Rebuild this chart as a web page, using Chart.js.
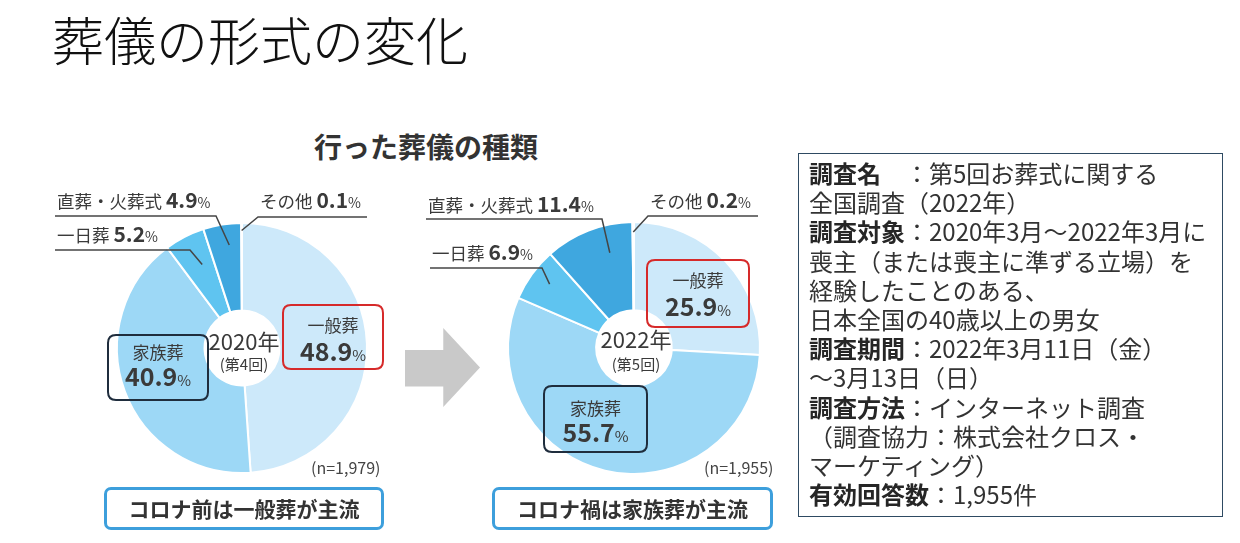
<!DOCTYPE html>
<html><head><meta charset="utf-8">
<script src="https://cdn.jsdelivr.net/npm/chart.js@4.4.1/dist/chart.umd.min.js"></script>
<style>
html,body{margin:0;padding:0;background:#fff;}
body{width:1240px;height:543px;position:relative;overflow:hidden;font-family:"Noto Sans CJK JP","Noto Sans",sans-serif;}
.abs{position:absolute;}
#title{left:52px;top:4px;font-size:52px;font-weight:300;color:#111;line-height:70px;white-space:nowrap;font-family:"Noto Sans CJK JP Light","Noto Sans CJK JP DemiLight","Noto Sans CJK JP",sans-serif;}
#ctitle{left:306px;top:128px;width:240px;text-align:center;font-size:28px;font-weight:700;color:#333;line-height:36px;white-space:nowrap;}
.wrap{position:absolute;width:400px;height:310px;top:180px;}
#arrow{left:405px;top:328px;width:75px;height:79px;background:#c9c9c9;clip-path:polygon(0 28%,51% 28%,51% 0,100% 50%,51% 100%,51% 74%,0 74%);}
.nlab{font-size:16px;color:#444;line-height:20px;white-space:nowrap;}
.bbox{border:3px solid #3d9fdc;border-radius:7px;box-sizing:border-box;height:43px;top:487px;text-align:center;font-size:21px;font-weight:700;color:#333;line-height:37px;white-space:nowrap;}
#info{left:798px;top:153px;width:425px;height:364px;box-sizing:border-box;border:1.5px solid #2e4a62;padding:4px 0 0 10px;font-size:24px;line-height:29.2px;color:#333;white-space:pre;}
#info b{color:#262626;}
</style></head><body>
<div id="title" class="abs">葬儀の形式の変化</div>
<div id="ctitle" class="abs">行った葬儀の種類</div>
<div class="wrap" style="left:40px"><canvas id="c1" width="400" height="310"></canvas></div>
<div class="wrap" style="left:420px"><canvas id="c2" width="400" height="310"></canvas></div>
<div id="arrow" class="abs"></div>
<div class="abs nlab" style="left:311px;top:457px">(n=1,979)</div>
<div class="abs nlab" style="left:704px;top:457px">(n=1,955)</div>
<div class="abs bbox" style="left:104px;width:280px">コロナ前は一般葬が主流</div>
<div class="abs bbox" style="left:492px;width:281px">コロナ禍は家族葬が主流</div>
<div id="info" class="abs"><div><b>調査名</b>　：第5回お葬式に関する</div><div>全国調査（2022年）</div><div><b>調査対象</b>：2020年3月～2022年3月に</div><div>喪主（または喪主に準ずる立場）を</div><div>経験したことのある、</div><div>日本全国の40歳以上の男女</div><div><b>調査期間</b>：2022年3月11日（金）</div><div>～3月13日（日）</div><div><b>調査方法</b>：インターネット調査</div><div>（調査協力：株式会社クロス・</div><div>マーケティング）</div><div><b>有効回答数</b>：1,955件</div></div>
<script>
// ---- data ----
const categories = ["一般葬", "家族葬", "一日葬", "直葬・火葬式", "その他"];
const values2020 = [48.9, 40.9, 5.2, 4.9, 0.1];
const values2022 = [25.9, 55.7, 6.9, 11.4, 0.2];
const centerLabels2020 = ["2020年", "(第4回)"];
const centerLabels2022 = ["2022年", "(第5回)"];
const sliceColors = ["#cde9fa", "#9dd8f6", "#5fc4f0", "#3fa7df", "#2f8fcf"];

const FONT = '"Noto Sans CJK JP","Noto Sans",sans-serif';
const TXT = "#3a3a3a";
function fmt(v){return v.toFixed(1);}

function runs(ctx, x, y, parts, align){
  let w = 0;
  parts.forEach(p=>{ctx.font=p.f; p.w=ctx.measureText(p.t).width; w+=p.w;});
  let sx = align==="center" ? x - w/2 : (align==="right" ? x - w : x);
  ctx.textAlign="left"; ctx.textBaseline="alphabetic";
  parts.forEach(p=>{ctx.font=p.f; ctx.fillStyle=p.c||TXT; ctx.fillText(p.t, sx, y); sx+=p.w;});
}
function rrect(ctx,x,y,w,h,r){
  ctx.beginPath();
  ctx.moveTo(x+r,y);ctx.lineTo(x+w-r,y);ctx.quadraticCurveTo(x+w,y,x+w,y+r);
  ctx.lineTo(x+w,y+h-r);ctx.quadraticCurveTo(x+w,y+h,x+w-r,y+h);
  ctx.lineTo(x+r,y+h);ctx.quadraticCurveTo(x,y+h,x,y+h-r);
  ctx.lineTo(x,y+r);ctx.quadraticCurveTo(x,y,x+r,y);ctx.closePath();
}
function labelParts(name, v, big){
  return [
    {t:name+" ", f:"400 17.5px "+FONT},
    {t:fmt(v), f:"700 "+big+"px "+FONT},
    {t:"%", f:"400 14px "+FONT}
  ];
}

const annot = {
  id:"annot",
  afterDraw(chart, args, o){
    const ctx = chart.ctx;
    const meta = chart.getDatasetMeta(0);
    const vals = chart.data.datasets[0].data;
    ctx.save();
    ctx.translate(-o.offX, -o.offY);
    const cx = meta.data[0].x + o.offX, cy = meta.data[0].y + o.offY;
    o.outside.forEach(L=>{
      const a = meta.data[L.i];
      const ang = a.startAngle + L.t*(a.endAngle - a.startAngle);
      const r = L.rf * a.outerRadius;
      const px = cx + r*Math.cos(ang), py = cy + r*Math.sin(ang);
      ctx.strokeStyle="#454545"; ctx.lineWidth=1.5;
      ctx.beginPath(); ctx.moveTo(L.u0, L.uy); ctx.lineTo(L.u1, L.uy); ctx.lineTo(px, py); ctx.stroke();
      runs(ctx, L.tx, L.ty, labelParts(chart.data.labels[L.i], vals[L.i], 21), "left");
    });
    o.inside.forEach(B=>{
      ctx.strokeStyle=B.col; ctx.lineWidth=2;
      rrect(ctx,B.x,B.y,B.w,B.h,8); ctx.stroke();
      const mx = B.x + B.w/2;
      runs(ctx, mx, B.y1, [{t:chart.data.labels[B.i], f:"400 17px "+FONT}], "center");
      runs(ctx, mx, B.y2, [{t:fmt(vals[B.i]), f:"700 25px "+FONT},{t:"%", f:"400 15px "+FONT}], "center");
    });
    runs(ctx, cx+2, cy + o.cy1, [{t:o.center[0], f:"400 22px "+FONT}], "center");
    runs(ctx, cx+2, cy + o.cy2, [{t:o.center[1], f:"400 15px "+FONT}], "center");
    ctx.restore();
  }
};

function makeChart(id, values, pad, opts){
  return new Chart(document.getElementById(id), {
    type:"doughnut",
    data:{labels:categories, datasets:[{data:values, backgroundColor:sliceColors, borderColor:"#ffffff", borderWidth:2}]},
    options:{
      responsive:false, animation:false, cutout:"30%",
      layout:{padding:pad},
      plugins:{legend:{display:false}, tooltip:{enabled:false}, annot:opts}
    },
    plugins:[annot]
  });
}

makeChart("c1", values2020, {left:76,right:72,top:42,bottom:16}, {
  offX:40, offY:180, center:centerLabels2020, cy1:2, cy2:22,
  outside:[
    {i:3, tx:57, ty:208, u0:55, u1:216, uy:216, t:0.62, rf:0.83},
    {i:2, tx:57, ty:242, u0:55, u1:190, uy:250, t:0.6, rf:0.74},
    {i:4, tx:260, ty:208, u0:367, u1:258, uy:217, t:0.5, rf:0.94}
  ],
  inside:[
    {i:0, x:283, y:305, w:100, h:64, col:"#d62a2a", y1:332, y2:361},
    {i:1, x:108, y:335, w:100, h:65, col:"#1f2d3d", y1:359, y2:386}
  ]
});
makeChart("c2", values2022, {left:87,right:59,top:41,bottom:15}, {
  offX:420, offY:180, center:centerLabels2022, cy1:0, cy2:22,
  outside:[
    {i:3, tx:428, ty:212, u0:426, u1:602, uy:219, t:0.67, rf:0.78},
    {i:2, tx:432, ty:260, u0:430, u1:542, uy:268, t:0.55, rf:0.84},
    {i:4, tx:650, ty:208, u0:758, u1:648, uy:216, t:0.5, rf:0.92}
  ],
  inside:[
    {i:0, x:647, y:260, w:102, h:67, col:"#d62a2a", y1:287, y2:316},
    {i:1, x:544, y:386, w:103, h:66, col:"#1f2d3d", y1:415, y2:442}
  ]
});
</script>
</body></html>
